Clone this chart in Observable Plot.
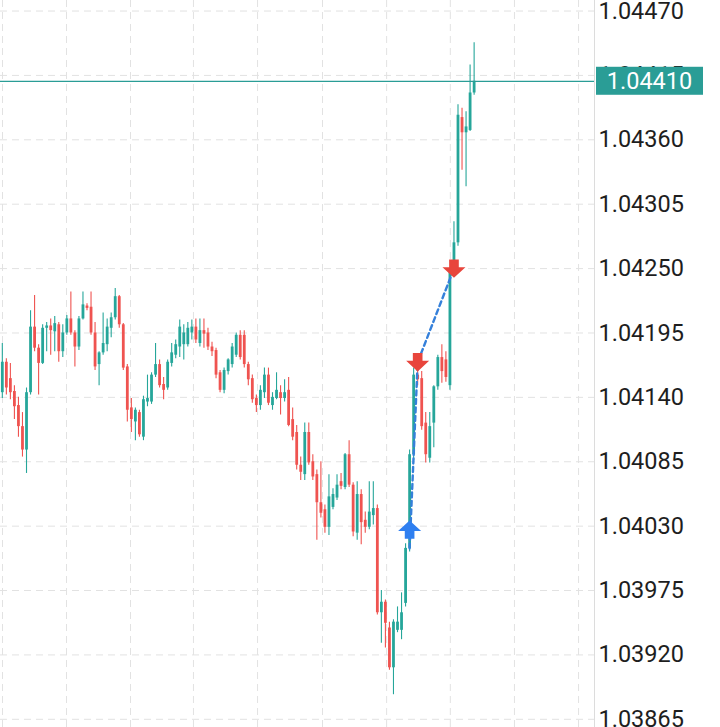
<!DOCTYPE html>
<html><head><meta charset="utf-8">
<script src="https://cdn.jsdelivr.net/npm/d3@7"></script>
<script src="https://cdn.jsdelivr.net/npm/@observablehq/plot@0.6"></script>
<style>html,body{margin:0;padding:0;background:#fff;} svg{display:block}</style>
</head><body><div id="chart"></div>
<script>
const open = [1.04144,1.04170,1.04156,1.04145,1.04133,1.04115,1.04095,1.04144,1.04200,1.04182,
1.04169,1.04199,1.04201,1.04196,1.04202,1.04179,1.04195,1.04207,1.04195,1.04183,
1.04207,1.04218,1.04217,1.04195,1.04168,1.04178,1.04185,1.04199,1.04208,1.04226,
1.04202,1.04166,1.04131,1.04119,1.04127,1.04106,1.04136,1.04136,1.04159,1.04168,
1.04151,1.04148,1.04169,1.04176,1.04183,1.04185,1.04185,1.04195,1.04200,1.04186,
1.04197,1.04195,1.04183,1.04180,1.04161,1.04146,1.04162,1.04168,1.04176,1.04193,
1.04193,1.04168,1.04156,1.04139,1.04133,1.04144,1.04159,1.04133,1.04139,1.04144,
1.04139,1.04146,1.04121,1.04110,1.04082,1.04074,1.04110,1.04085,1.04074,1.04050,
1.04044,1.04029,1.04046,1.04054,1.04068,1.04063,1.04091,1.04065,1.04024,1.04057,
1.04035,1.04029,1.04039,1.04045,1.03956,1.03965,1.03943,1.03909,1.03941,1.03941,
1.03964,1.04011,1.04091,1.04159,1.04156,1.04118,1.04088,1.04118,1.04149,1.04174,
1.04172,1.04150,1.04250,1.04272,1.04379,1.04366,1.04368,1.04400];
const high = [1.04186,1.04173,1.04169,1.04150,1.04140,1.04127,1.04148,1.04214,1.04227,1.04185,
1.04202,1.04204,1.04207,1.04209,1.04204,1.04202,1.04210,1.04230,1.04197,1.04209,
1.04230,1.04220,1.04230,1.04204,1.04179,1.04212,1.04207,1.04212,1.04233,1.04227,
1.04203,1.04168,1.04139,1.04131,1.04129,1.04141,1.04159,1.04161,1.04186,1.04172,
1.04157,1.04172,1.04186,1.04189,1.04206,1.04202,1.04204,1.04206,1.04207,1.04207,
1.04207,1.04199,1.04187,1.04182,1.04163,1.04165,1.04173,1.04186,1.04195,1.04197,
1.04197,1.04170,1.04159,1.04142,1.04150,1.04165,1.04165,1.04144,1.04161,1.04150,
1.04155,1.04157,1.04131,1.04116,1.04089,1.04118,1.04118,1.04091,1.04078,1.04085,
1.04048,1.04074,1.04062,1.04074,1.04075,1.04092,1.04103,1.04067,1.04068,1.04061,
1.04042,1.04068,1.04068,1.04048,1.03975,1.03967,1.03948,1.03950,1.03961,1.03973,
1.04015,1.04095,1.04165,1.04168,1.04162,1.04127,1.04127,1.04150,1.04176,1.04185,
1.04179,1.04250,1.04290,1.04390,1.04387,1.04384,1.04424,1.04443];
const low = [1.04139,1.04142,1.04138,1.04121,1.04106,1.04089,1.04075,1.04142,1.04179,1.04142,
1.04168,1.04179,1.04176,1.04179,1.04170,1.04174,1.04193,1.04193,1.04166,1.04180,
1.04206,1.04214,1.04193,1.04163,1.04150,1.04176,1.04179,1.04191,1.04206,1.04199,
1.04163,1.04119,1.04110,1.04103,1.04106,1.04103,1.04132,1.04134,1.04157,1.04148,
1.04138,1.04146,1.04166,1.04173,1.04174,1.04172,1.04183,1.04189,1.04186,1.04183,
1.04182,1.04180,1.04175,1.04156,1.04144,1.04143,1.04159,1.04165,1.04174,1.04172,
1.04165,1.04150,1.04135,1.04127,1.04129,1.04139,1.04133,1.04129,1.04138,1.04125,
1.04136,1.04115,1.04103,1.04078,1.04069,1.04069,1.04082,1.04069,1.04018,1.04037,
1.04024,1.04022,1.04044,1.04052,1.04061,1.04061,1.04063,1.04021,1.04018,1.04014,
1.04024,1.04027,1.04031,1.03954,1.03930,1.03926,1.03907,1.03886,1.03939,1.03933,
1.03961,1.04008,1.04086,1.04150,1.04112,1.04084,1.04084,1.04097,1.04146,1.04152,
1.04153,1.04146,1.04249,1.04269,1.04334,1.04320,1.04367,1.04398];
const close = [1.04170,1.04148,1.04144,1.04132,1.04115,1.04095,1.04144,1.04200,1.04182,1.04169,
1.04199,1.04201,1.04197,1.04203,1.04179,1.04195,1.04207,1.04195,1.04183,1.04207,
1.04219,1.04216,1.04195,1.04166,1.04178,1.04186,1.04200,1.04208,1.04226,1.04202,
1.04165,1.04129,1.04121,1.04129,1.04108,1.04138,1.04139,1.04159,1.04168,1.04150,
1.04146,1.04170,1.04178,1.04185,1.04200,1.04195,1.04199,1.04200,1.04189,1.04197,
1.04194,1.04183,1.04179,1.04159,1.04146,1.04163,1.04172,1.04183,1.04193,1.04174,
1.04168,1.04155,1.04138,1.04133,1.04146,1.04159,1.04135,1.04140,1.04146,1.04139,
1.04144,1.04116,1.04106,1.04082,1.04076,1.04110,1.04084,1.04072,1.04050,1.04041,
1.04029,1.04055,1.04057,1.04065,1.04064,1.04091,1.04065,1.04025,1.04057,1.04033,
1.04029,1.04042,1.04045,1.03956,1.03965,1.03947,1.03909,1.03948,1.03948,1.03956,
1.04011,1.04091,1.04159,1.04155,1.04115,1.04091,1.04115,1.04149,1.04174,1.04162,
1.04157,1.04249,1.04272,1.04381,1.04366,1.04371,1.04400,1.04410];

const yTicks = [1.04470,1.04415,1.04360,1.04305,1.04250,1.04195,1.04140,1.04085,1.04030,1.03975,1.03920,1.03865];
const gridX = [0.05,15.92,31.79,47.4,63.3,79.4,95.3,111.1,127.0,142.9];
const lastPrice = 1.04410;
const buySignals = [{i: 101, price: 1.04027}];
const sellSignals = [{i: 103, price: 1.04170}, {i: 112, price: 1.04250}];
const tradePath = [{i: 101, price: 1.04011}, {i: 103, price: 1.04170}, {i: 112, price: 1.04250}];

const candles = open.map((o, i) => ({i, open: o, high: high[i], low: low[i], close: close[i]}));

const teal = "#26a69a", red = "#ef5350";
const col = d => d.close >= d.open ? teal : red;

function arrow(dir) {
  return {draw(ctx, size) {
    const r = Math.sqrt(size / Math.PI);
    const s = dir;
    ctx.moveTo(0, -0.8 * r * s);
    ctx.lineTo(r, 0.12 * r * s);
    ctx.lineTo(0.42 * r, 0.12 * r * s);
    ctx.lineTo(0.42 * r, 0.8 * r * s);
    ctx.lineTo(-0.42 * r, 0.8 * r * s);
    ctx.lineTo(-0.42 * r, 0.12 * r * s);
    ctx.lineTo(-r, 0.12 * r * s);
    ctx.closePath();
  }};
}

const W = 720, H = 727, MR = 126;
const FONT = "Roboto, 'Noto Sans', sans-serif";
const chart = Plot.plot({
  width: W, height: H,
  marginTop: 0, marginBottom: 0, marginLeft: 0, marginRight: MR,
  style: {fontFamily: FONT, fontSize: "23.5px", color: "#1e1e1e", background: "#fff"},
  x: {domain: [-0.45, 146.85], axis: null},
  y: {domain: [1.03858, 1.04479], axis: "right", ticks: yTicks, tickFormat: d3.format(".5f"), tickSize: 0, tickPadding: 4, label: null},
  color: {type: "identity"},
  marks: [
    Plot.ruleX(gridX, {stroke: "#e2e2e2", strokeDasharray: "7,5"}),
    Plot.ruleY(yTicks, {stroke: "#e2e2e2", strokeDasharray: "7,5"}),
    Plot.ruleX([146.85], {stroke: "#dcdcdc"}),
    Plot.ruleX(candles, {x: "i", y1: "low", y2: "high", stroke: col, strokeWidth: 1.1}),
    Plot.ruleX(candles, {x: "i", y1: "open", y2: "close", stroke: col, strokeWidth: 2.8}),
    Plot.ruleY([lastPrice], {stroke: "#2a9d96", strokeWidth: 1.3}),
    Plot.line(tradePath, {x: "i", y: "price", stroke: "#3580da", strokeWidth: 2.4, strokeDasharray: "5,3.5"}),
    Plot.dot(buySignals, {x: "i", y: "price", r: 11.5, symbol: arrow(1), fill: "#2f7ff0"}),
    Plot.dot(sellSignals, {x: "i", y: "price", r: 11.5, symbol: arrow(-1), fill: "#e8453c"})
  ]
});

const svg = d3.select(chart);
const yl = chart.scale("y").apply(lastPrice);
const gx = W - MR + 2;
svg.append("rect").attr("x", gx).attr("y", yl - 14).attr("width", 107).attr("height", 28).attr("fill", "#2a9d96");
svg.append("text").attr("x", gx + 53.5).attr("y", yl).attr("dy", "0.35em").attr("text-anchor", "middle")
  .attr("fill", "#fff").attr("font-size", 23.5).attr("font-family", FONT).text(d3.format(".5f")(lastPrice));

document.getElementById("chart").appendChild(chart);
</script>
</body></html>
